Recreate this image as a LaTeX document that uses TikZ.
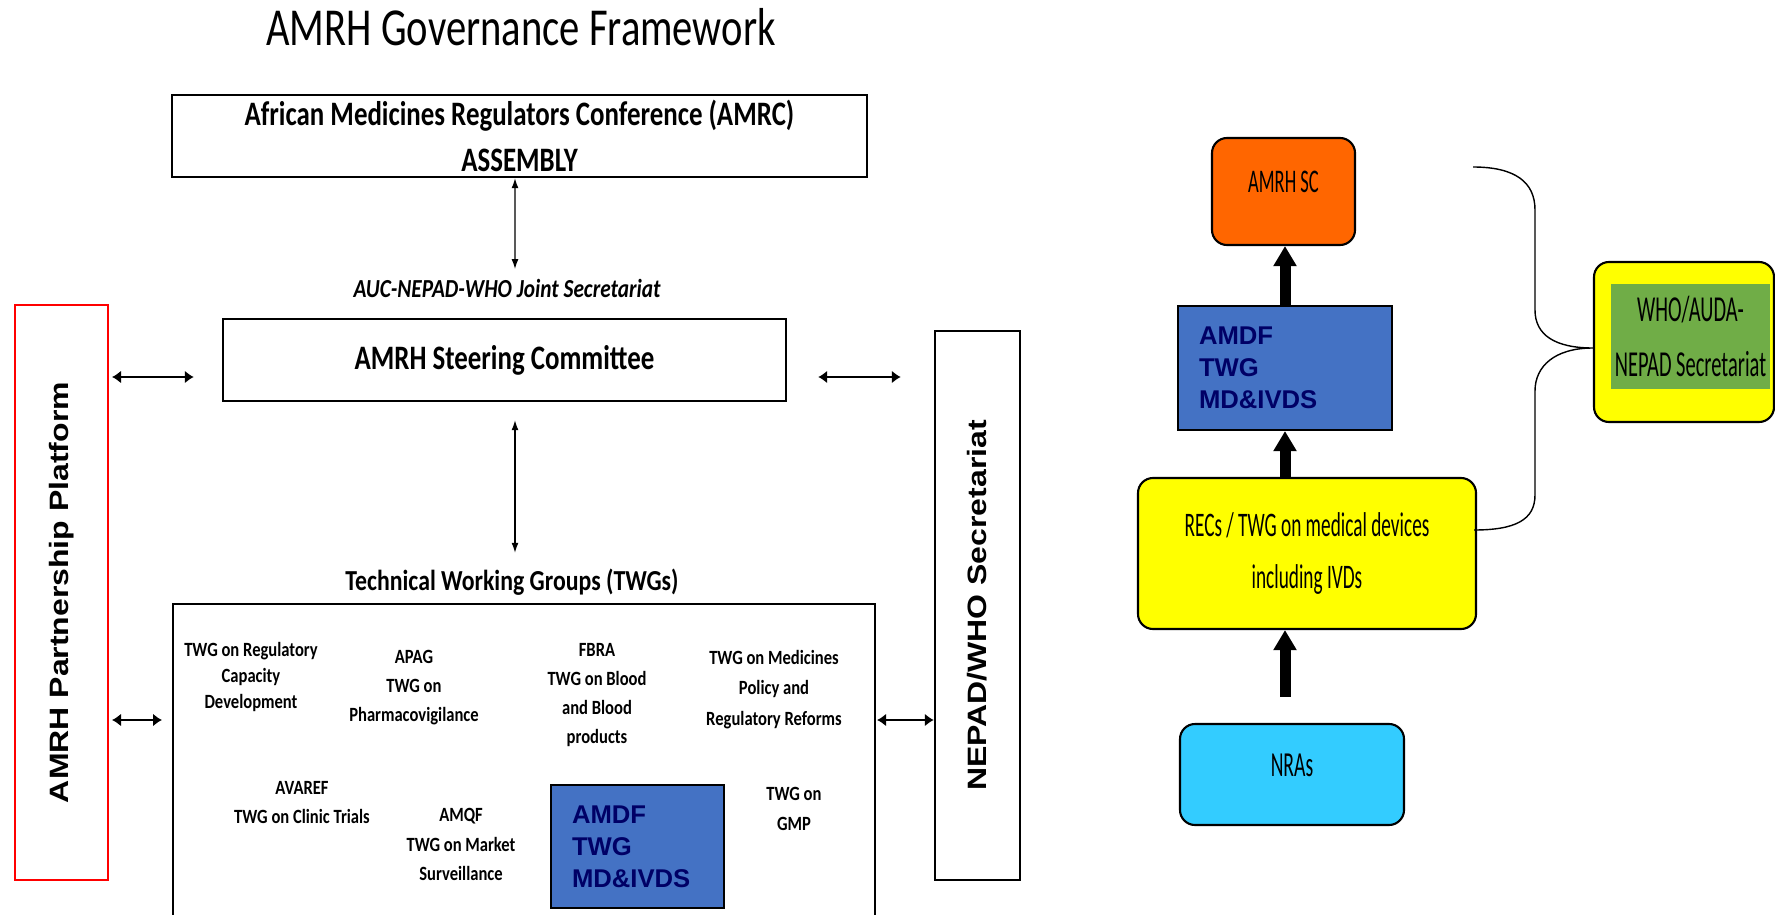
\documentclass[tikz,border=0pt]{standalone}
\usepackage{fontspec}
\setmainfont{Carlito}
\newfontfamily\titlefont[FakeStretch=0.76]{Carlito}
\newfontfamily\boxfont[FakeStretch=0.785]{Carlito}
\newfontfamily\leftfont[FakeStretch=0.82]{Carlito}
\newfontfamily\rightfont[FakeStretch=0.56]{Carlito}
\newfontfamily\arialfont{Liberation Sans}
\usetikzlibrary{arrows.meta}
\definecolor{scorange}{HTML}{FF6600}
\definecolor{recyellow}{HTML}{FFFF00}
\definecolor{nracyan}{HTML}{33CCFF}
\definecolor{secgreen}{HTML}{70AD47}
\definecolor{twgblue}{HTML}{4472C4}
\definecolor{twgnavy}{HTML}{000066}

\begin{document}
\begin{tikzpicture}[
	sqbox/.style={draw, line width=0.7pt, inner sep=0pt},
	rbox/.style={draw, line width=0.6pt, rounded corners=0.15cm, inner sep=0pt, align=center, font=\rightfont\fontsize{9.4}{14.8}\selectfont},
	bluebox/.style={draw, line width=0.6pt, fill=twgblue, text=twgnavy, align=left, inner xsep=0.21cm, font=\arialfont\bfseries\fontsize{7.3}{9.1}\selectfont},
	item/.style={inner sep=0pt, align=center, font=\leftfont\bfseries\fontsize{5.75}{8.3}\selectfont},
	vtext/.style={rotate=90, font=\arialfont\bfseries\fontsize{9.1}{11}\selectfont},
	thinarrow/.style={line width=0.37pt, {Latex[length=0.1cm,width=0.07cm]}-{Latex[length=0.1cm,width=0.07cm]}},
	sidearrow/.style={line width=0.7pt, {Latex[length=0.09cm,width=0.13cm]}-{Latex[length=0.09cm,width=0.13cm]}},
	bigarrow/.style={line width=0.11cm, -{Triangle[length=0.2cm,width=0.22cm]}}
	]
		\useasboundingbox (0,0) rectangle (17.75,-9.15);
		\clip (0,0) rectangle (17.75,-9.15);
		
		%title
		\node[inner sep=0pt, anchor=base, font=\titlefont\fontsize{15.2}{18}\selectfont] (title) at (5.21,-0.45) {AMRH Governance Framework};
		
		%assembly, secretariat, steering committee
		\node[sqbox, minimum width=6.95cm, minimum height=0.82cm, align=center, font=\boxfont\bfseries\fontsize{9.75}{13.1}\selectfont] (amrc) at (5.195,-1.36) {African Medicines Regulators Conference (AMRC)\\ASSEMBLY};
		\node[inner sep=0pt, anchor=base, font=\leftfont\bfseries\itshape\fontsize{7.4}{9}\selectfont] (joint) at (5.07,-2.97) {AUC-NEPAD-WHO Joint Secretariat};
		\node[sqbox, minimum width=5.63cm, minimum height=0.82cm, font=\boxfont\bfseries\fontsize{9.75}{12}\selectfont] (steer) at (5.045,-3.60) {AMRH Steering Committee};
		\node[inner sep=0pt, anchor=base, font=\leftfont\bfseries\fontsize{8.25}{10}\selectfont] (twgtitle) at (5.12,-5.90) {Technical Working Groups (TWGs)};
		
		%TWG box, runs past the bottom edge
		\node[sqbox, line width=0.6pt, minimum width=7.02cm, minimum height=3.8cm, anchor=north west] (twg) at (1.72,-6.03) {};
		
		%side platforms
		\node[draw=red, line width=0.6pt, minimum width=0.93cm, minimum height=5.75cm] (pp) at (0.615,-5.925) {};
		\node[vtext] at (pp) {\scalebox{1}[0.83]{AMRH Partnership Platform}};
		\node[sqbox, minimum width=0.85cm, minimum height=5.49cm] (nepad) at (9.775,-6.055) {};
		\node[vtext] at (nepad) {\scalebox{1}[0.83]{NEPAD/WHO Secretariat}};
		
		\draw[thinarrow, shorten >=0.09cm] ([xshift=-0.045cm]amrc.south) -- ([xshift=0.08cm]joint.north);
		\draw[thinarrow, shorten <=0.18cm, shorten >=0.15cm] ([xshift=0.105cm]steer.south) -- ([xshift=0.03cm]twgtitle.north);
		
		\coordinate (upper) at (0,-3.77);
		\coordinate (lower) at (0,-7.20);
		\draw[sidearrow, shorten <=0.03cm, shorten >=0.28cm] (pp.east |- upper) -- (steer.west |- upper);
		\draw[sidearrow, shorten <=0.31cm, shorten >=0.33cm] (steer.east |- upper) -- (nepad.west |- upper);
		\draw[sidearrow, shorten <=0.03cm, shorten >=0.10cm] (pp.east |- lower) -- (twg.west |- lower);
		\draw[sidearrow, shorten <=0.01cm] (twg.east |- lower) -- (nepad.west |- lower);
		
		%working groups
		\node[item, font=\leftfont\bfseries\fontsize{5.75}{7.5}\selectfont] (regcap) at (2.51,-6.77) {TWG on Regulatory\\Capacity\\Development};
		\node[item] (apag) at (4.14,-6.875) {APAG\\TWG on\\Pharmacovigilance};
		\node[item] (fbra) at (5.97,-6.95) {FBRA\\TWG on Blood\\and Blood\\products};
		\node[item, font=\leftfont\bfseries\fontsize{5.75}{8.6}\selectfont] (medpol) at (7.74,-6.895) {TWG on Medicines\\Policy and\\Regulatory Reforms};
		\node[item] (avaref) at (3.02,-8.025) {AVAREF\\TWG on Clinic Trials};
		\node[item] (amqf) at (4.61,-8.445) {AMQF\\TWG on Market\\Surveillance};
		\node[item] (gmp) at (7.94,-8.09) {TWG on\\GMP};
		\node[bluebox, text width=1.31cm, minimum height=1.23cm] (amdfL) at (6.375,-8.465) {AMDF\\TWG\\MD\&IVDS};
		
		%reporting line
		\node[rbox, fill=scorange, minimum width=1.43cm, minimum height=1.07cm] (sc) at (12.835,-1.915) {\raisebox{0.1cm}[\height][\depth]{AMRH SC}};
		\node[bluebox, text width=1.72cm, minimum height=1.24cm] (amdfR) at (12.85,-3.68) {AMDF\\TWG\\MD\&IVDS};
		\node[rbox, fill=recyellow, minimum width=3.38cm, minimum height=1.51cm, font=\rightfont\fontsize{9.8}{14.8}\selectfont] (recs) at (13.07,-5.535) {RECs / TWG on medical devices\\including IVDs};
		\node[rbox, fill=nracyan, minimum width=2.24cm, minimum height=1.01cm, font=\rightfont\fontsize{10}{13}\selectfont] (nras) at (12.92,-7.745) {\raisebox{0.09cm}[\height][\depth]{NRAs}};
		
		\draw[bigarrow] (amdfR.north) -- (amdfR.north |- sc.south);
		\draw[bigarrow] (recs.north -| amdfR.north) -- (amdfR.south);
		\draw[bigarrow, shorten <=0.26cm] (nras.north -| amdfR.north) -- (recs.south -| amdfR.north);
		
		%secretariat and brace
		\node[rbox, fill=recyellow, minimum width=1.80cm, minimum height=1.60cm] (who) at (16.84,-3.42) {};
		\node[fill=secgreen, minimum width=1.59cm, minimum height=1.05cm, inner sep=0pt, align=center, font=\rightfont\fontsize{10.4}{15.6}\selectfont] (sec) at (16.905,-3.365) {WHO/AUDA-\\NEPAD Secretariat};
		\draw[line width=0.4pt] (14.73,-1.67) .. controls (15.15,-1.67) and (15.35,-1.82) .. (15.35,-2.1) -- (15.35,-3.1) .. controls (15.35,-3.35) and (15.55,-3.48) .. ([yshift=-0.06cm]who.west) .. controls (15.55,-3.48) and (15.35,-3.66) .. (15.35,-3.91) -- (15.35,-4.95) .. controls (15.35,-5.2) and (15.15,-5.3) .. (14.74,-5.30);
\end{tikzpicture}
\end{document}
